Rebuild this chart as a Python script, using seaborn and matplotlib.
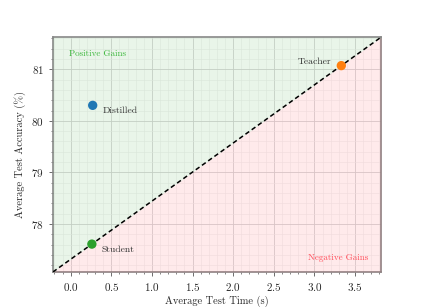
import matplotlib
matplotlib.use("Agg")
import matplotlib.pyplot as plt
import seaborn as sns
import pandas as pd
import numpy as np
from matplotlib.ticker import AutoMinorLocator, MultipleLocator

models = ["Distilled", "Teacher", "Student"]
test_time = [0.27, 3.33, 0.26]
test_acc = [80.30, 81.07, 77.61]
colors = ["#1f77b4", "#ff7f0e", "#2ca02c"]

sns.set_style("white")
plt.rcParams['font.family'] = ['cmr10', 'DejaVu Serif']
plt.rcParams['axes.formatter.use_mathtext'] = True
plt.rcParams['mathtext.fontset'] = 'cm'

df = pd.DataFrame({"model": models, "time": test_time, "acc": test_acc})

fig = plt.figure(figsize=(4.23, 3.07), dpi=100)
ax = fig.add_axes([0.125, 0.114, 0.776, 0.765])

xlim = (-0.22, 3.82)
# line through student and teacher
x1, y1 = test_time[2], test_acc[2]
x2, y2 = test_time[1], test_acc[1]
slope = (y2 - y1) / (x2 - x1)
ylim = (y1 + slope * (xlim[0] - x1), y1 + slope * (xlim[1] - x1))
ax.set_xlim(xlim)
ax.set_ylim(ylim)

xs = np.array(xlim)
ys = y1 + slope * (xs - x1)
ax.fill_between(xs, ys, ylim[1], color="#2ca02c", alpha=0.1, lw=0, zorder=3)
ax.fill_between(xs, ylim[0], ys, color="#ff3344", alpha=0.1, lw=0, zorder=3)
ax.plot(xs, ys, ls=(0, (3, 2)), color="black", lw=1.1, zorder=4)

sns.scatterplot(data=df, x="time", y="acc", hue="model", palette=colors,
                s=45, edgecolor="none", legend=False, ax=ax, zorder=5)

ax.text(0.27 + 0.12, 80.30 - 0.1, "Distilled", fontsize=7, color="#333333", va="center", ha="left", zorder=6)
ax.text(3.33 - 0.12, 81.07 + 0.08, "Teacher", fontsize=7, color="#333333", va="center", ha="right", zorder=6)
ax.text(0.26 + 0.12, 77.61 - 0.12, "Student", fontsize=7, color="#333333", va="center", ha="left", zorder=6)

ax.text(0.05, 0.93, "Positive Gains", transform=ax.transAxes, fontsize=6.5,
        color="#3cb83c", ha="left", va="center", zorder=6)
ax.text(0.96, 0.06, "Negative Gains", transform=ax.transAxes, fontsize=6.5,
        color="#ff4d5a", ha="right", va="center", zorder=6)

ax.xaxis.set_major_locator(MultipleLocator(0.5))
ax.yaxis.set_major_locator(MultipleLocator(1))
ax.xaxis.set_minor_locator(AutoMinorLocator(5))
ax.yaxis.set_minor_locator(AutoMinorLocator(5))
ax.grid(True, which="major", color="#d4d4d4", lw=0.6)
ax.grid(True, which="minor", color="#eeeeee", lw=0.4)
ax.set_axisbelow(True)
ax.tick_params(axis="both", which="major", labelsize=8, length=3, width=0.6, color="#555555", direction="out", bottom=True, left=True)
ax.tick_params(axis="both", which="minor", length=1.5, width=0.5, color="#555555", direction="out", bottom=True, left=True)
for s in ax.spines.values():
    s.set_color("#888888")
    s.set_linewidth(1.2)

ax.set_xlabel("Average Test Time (s)", fontsize=7.5, labelpad=2)
ax.set_ylabel("Average Test Accuracy (%)", fontsize=7.5, labelpad=4)

fig.savefig("out.png", dpi=100)
